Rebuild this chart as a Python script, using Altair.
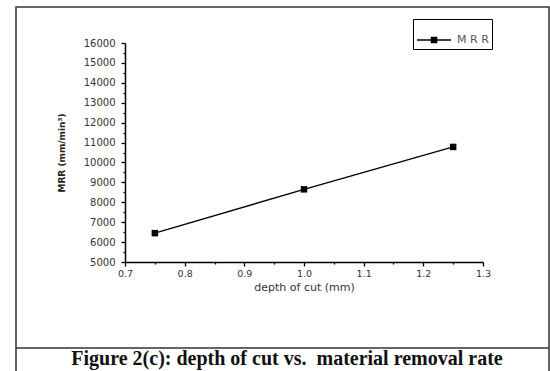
import altair as alt
import pandas as pd

# ---- data ----
depth_of_cut = [0.75, 1.0, 1.25]
mrr_values = [6450, 8650, 10780]
series_name = ["M R R", "M R R", "M R R"]

x_major_ticks = [0.7, 0.8, 0.9, 1.0, 1.1, 1.2, 1.3]
x_minor_ticks = [0.75, 0.85, 0.95, 1.05, 1.15, 1.25]
y_major_ticks = [5000, 6000, 7000, 8000, 9000, 10000, 11000, 12000, 13000, 14000, 15000, 16000]
y_minor_ticks = [5500, 6500, 7500, 8500, 9500, 10500, 11500, 12500, 13500, 14500, 15500]

caption = ["Figure 2(c): depth of cut vs.\u00a0 material removal rate"]
x_title = "depth of cut (mm)"
y_title = "MRR (mm/min³)"

df = pd.DataFrame({"depth": depth_of_cut, "mrr": mrr_values, "series": series_name})

W, H = 358, 219
PAD_L, PAD_T = 125, 43

x_scale = alt.Scale(domain=[0.7, 1.3], nice=False, zero=False)
y_scale = alt.Scale(domain=[5000, 16000], nice=False, zero=False)

x_axis = alt.Axis(
    values=x_major_ticks, format=".1f", orient="bottom", tickSize=4,
    grid=False, domainColor="black", domainWidth=1.5, tickColor="black", tickWidth=1.3,
    labelFont="DejaVu Sans", labelFontSize=9.5, labelColor="#333", labelPadding=2,
    labelFlush=False, labelOverlap=False,
    title=x_title, titleFont="DejaVu Sans", titleFontSize=11, titleFontWeight="normal",
    titleColor="#333", titlePadding=4,
)
y_axis = alt.Axis(
    values=y_major_ticks, format="d", orient="left", tickSize=4,
    grid=False, domainColor="black", domainWidth=1.5, tickColor="black", tickWidth=1.3,
    labelFont="DejaVu Sans", labelFontSize=10, labelColor="#333", labelPadding=6,
    labelFlush=False, labelOverlap=False,
    title=y_title, titleFont="DejaVu Sans", titleFontSize=9, titleFontWeight="bold",
    titleColor="#222", titlePadding=17,
)
x_minor_axis = alt.Axis(
    values=x_minor_ticks, orient="bottom", tickSize=2, labels=False, domain=False,
    grid=False, tickColor="black", tickWidth=1.3, title=None,
)
y_minor_axis = alt.Axis(
    values=y_minor_ticks, orient="left", tickSize=2, labels=False, domain=False,
    grid=False, tickColor="black", tickWidth=1.3, title=None,
)

base = alt.Chart(df)

line = base.mark_line(strokeWidth=1.4).encode(
    x=alt.X("depth:Q", scale=x_scale, axis=x_axis),
    y=alt.Y("mrr:Q", scale=y_scale, axis=y_axis),
    color=alt.Color(
        "series:N",
        scale=alt.Scale(range=["black"]),
        legend=alt.Legend(
            title=None, orient="none", legendX=288, legendY=-24,
            padding=3, strokeColor="black", fillColor="white", cornerRadius=0,
            symbolType="M-1,0H1M-0.15,-0.15H0.15V0.15H-0.15Z",
            symbolSize=1156, symbolStrokeColor="black", symbolStrokeWidth=1.5,
            symbolFillColor="black",
            labelFont="DejaVu Sans", labelFontSize=11, labelColor="#555", labelOffset=5,
        ),
    ),
)

points = base.mark_point(shape="square", filled=True, size=42, opacity=1, color="black").encode(
    x=alt.X("depth:Q", scale=x_scale, axis=x_minor_axis),
    y=alt.Y("mrr:Q", scale=y_scale, axis=y_minor_axis),
)

frame_df = pd.DataFrame({"k": [0]})
frame = alt.Chart(frame_df).mark_rect(fill=None, stroke="#333", strokeWidth=1.5).encode(
    x=alt.value(16 - PAD_L), x2=alt.value(549 - PAD_L),
    y=alt.value(7 - PAD_T), y2=alt.value(400 - PAD_T),
)
frame_bottom = alt.Chart(frame_df).mark_rule(color="#333", strokeWidth=1.5).encode(
    x=alt.value(16 - PAD_L), x2=alt.value(549 - PAD_L),
    y=alt.value(348 - PAD_T),
)

cap = alt.Chart(pd.DataFrame({"t": caption})).mark_text(
    font="Liberation Serif", fontWeight="bold", fontSize=20, color="#111",
    align="center", baseline="alphabetic",
).encode(
    text="t:N", x=alt.value(287 - PAD_L), y=alt.value(365 - PAD_T),
)

chart = alt.layer(frame, frame_bottom, line, points, cap).resolve_axis(
    x="independent", y="independent"
).properties(
    width=W, height=H,
    autosize=alt.AutoSizeParams(type="none"),
    padding={"left": PAD_L, "top": PAD_T, "right": 550 - PAD_L - W, "bottom": 371 - PAD_T - H},
    background="white",
).configure_view(stroke=None)

chart.save("out.html", embed_options={"renderer": "svg", "actions": False})
